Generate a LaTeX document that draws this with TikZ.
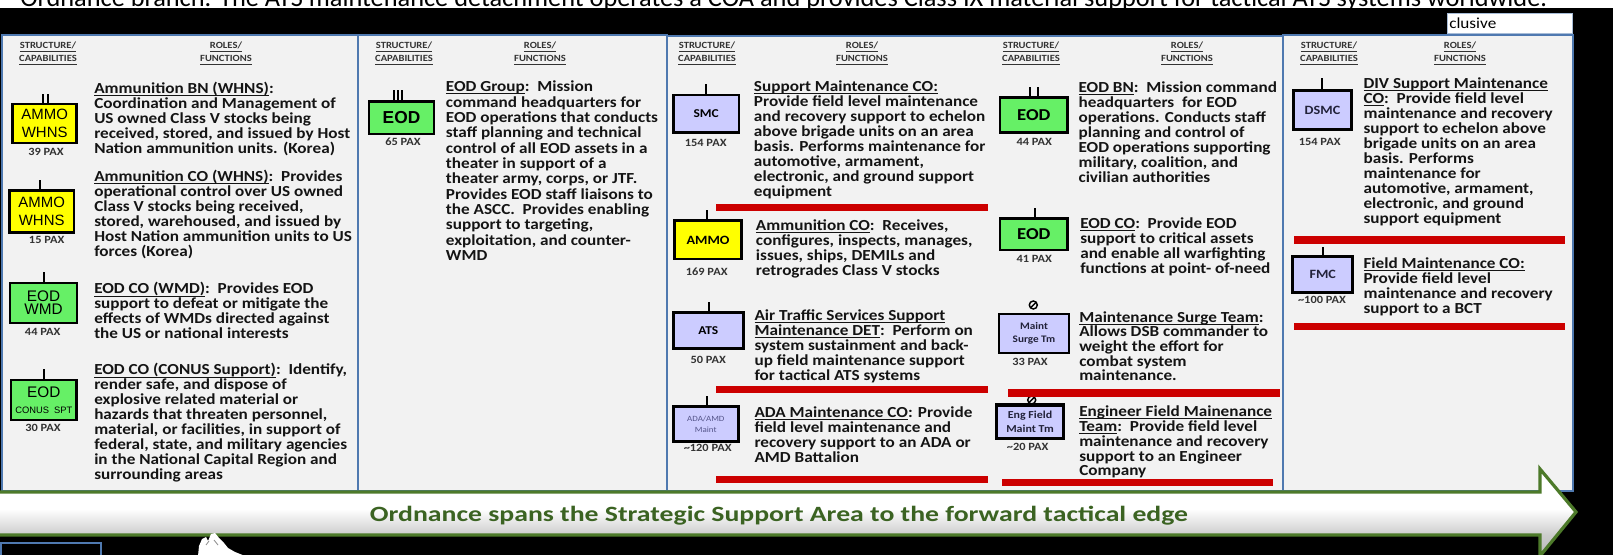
\documentclass[tikz,border=0pt]{standalone}
\usepackage{fontspec}
\usepackage{graphicx}
\newfontfamily\bodyfont{Carlito}[FakeStretch=1.12]
\newfontfamily\plainfont{Carlito}
\newfontfamily\boxfont{Liberation Sans}
\newcommand\fs[2]{\fontsize{#1}{#2}\selectfont}
% left-aligned block of lines; the baseline is that of the first line
\newcommand\txtblock[2]{\vtop{\baselineskip=#1\lineskiplimit=-\maxdimen\lineskip=0pt\halign{##\hfil\cr#2\crcr}}}
% underline at a fixed depth below the baseline
\newcommand\ulx[1]{\setbox0\hbox{#1}\rlap{\vrule height -1.3pt depth 1.85pt width \wd0}\box0}
\newcommand\ttl[1]{\ulx{#1}}

\definecolor{panelgray}{HTML}{F2F2F2}
\definecolor{panelblue}{HTML}{4F79B0}
\definecolor{ammoyellow}{HTML}{FFFF00}
\definecolor{eodgreen}{HTML}{66F066}
\definecolor{maintblue}{HTML}{CCCCFF}
\definecolor{barred}{HTML}{CC0000}
\definecolor{arrowgreen}{HTML}{4D7A2A}
\definecolor{labelgreen}{HTML}{3B6322}
\definecolor{paxgray}{HTML}{333333}
\definecolor{maintext}{HTML}{55558A}
\definecolor{darknavy}{HTML}{22223A}

\pgfdeclareverticalshading{arrowfill}{100bp}{color(0bp)=(black!28); color(25bp)=(black!28); color(37bp)=(black!20); color(52bp)=(white); color(100bp)=(white)}

\begin{document}
\begin{tikzpicture}[x=0.75pt,y=-0.75pt,
  txt/.style={inner sep=0pt, anchor=base west, font=\bodyfont\bfseries\fs{11.5}{11.25}, text=black!92},
  hdr/.style={inner sep=0pt, anchor=base, font=\bodyfont\bfseries\fs{7.1}{7.5}, text=black!80},
  unit/.style={draw=black, line width=2pt, inner sep=0pt, align=center},
  sz/.style 2 args={minimum width=#1*0.75pt, minimum height=#2*0.75pt},
  pax/.style={inner sep=0pt, font=\bodyfont\bfseries\fs{8.3}{9}, text=paxgray},
  tick/.style={draw=black, line width=1.3pt},
  bar/.style={fill=barred},
  panel/.style={fill=panelgray, draw=panelblue, line width=1.2pt},
  nosym/.style={circle, draw=black, line width=1.1pt, minimum size=6pt, inner sep=0pt,
    path picture={\draw[line width=1.1pt] (path picture bounding box.south west) -- (path picture bounding box.north east);}}
]
\path[use as bounding box] (0,0) rectangle (1613,555);
\clip (0,0) rectangle (1613,555);
\fill[black] (0,0) rectangle (1613,555);

% strip of caption text along the top edge, only its lower part showing
\fill[white] (0,0) rectangle (1613,8);
\begin{scope}
  \clip (0,0) rectangle (1613,8);
  \node[anchor=base west, inner sep=0pt] (topline) at (20,6.5)
    {\resizebox{1145pt}{!}{\plainfont Ordnance branch. The ATS maintenance detachment operates a COA and provides Class IX material support for tactical ATS systems worldwide.}};
\end{scope}

% "clusive" tab
\node[draw=panelblue!50, fill=white, sz={125.4}{20}, inner sep=0pt] (clbox) at (1510,23.3) {};
\node[anchor=base west, inner sep=0pt, font=\bodyfont\fs{11.5}{12}] (cltext) at (1449,28.5) {clusive};

% panels
\draw[panel] (2,35) rectangle (358,491);
\draw[panel] (358,35) rectangle (667,491);
\draw[panel] (667,36) rectangle (1283,491);
\draw[panel] (1283,35) rectangle (1573,491);

% column headers
\foreach \sx/\rx [count=\i] in {48/226, 404/540, 707/862, 1031/1187, 1329/1460} {
  \node[hdr] (sa\i) at (\sx,49) {\ulx{STRUCTURE/}};
  \node[hdr] (sb\i) at (\sx,62) {\ulx{CAPABILITIES}};
  \node[hdr] (ra\i) at (\rx,49) {\ulx{ROLES/}};
  \node[hdr] (rb\i) at (\rx,62) {\ulx{FUNCTIONS}};
}

% ---------- panel 1 ----------
\node[unit, sz={64}{39}, fill=ammoyellow, font=\boxfont\fs{11.2}{13.5}] (b1) at (44.7,123.5) {AMMO\\WHNS};
\draw[tick] (b1.north) ++(-1.4,0) -- ++(0,-9);
\draw[tick] (b1.north) ++(3,0) -- ++(0,-9);
\node[pax] (p1) at (46,151.7) {39 PAX};

\node[unit, sz={64.7}{41.6}, fill=ammoyellow, font=\boxfont\fs{11.2}{13.5}] (b2) at (41.7,211.5) {AMMO\\WHNS};
\draw[tick] (b2.north) ++(-1.7,0) -- ++(0,-9);
\node[pax] (p2) at (46.7,240) {15 PAX};

\node[unit, sz={67}{40}, fill=eodgreen, font=\boxfont\fs{11.5}{9.6}] (b3) at (43.5,303) {EOD\\WMD};
\draw[tick] (b3.north) ++(0.5,0) -- ++(0,-10);
\node[pax] (p3) at (42.7,331.7) {44 PAX};

\node[unit, sz={65.7}{40}, fill=eodgreen, font=\boxfont\fs{11.5}{11.6}] (b4) at (43.8,400) {EOD\\{\fs{7}{8}CONUS\ \ SPT}};
\draw[tick] (b4.north) ++(0.2,0) -- ++(0,-10);
\node[pax] (p4) at (43,428) {30 PAX};

\node[txt] (t1) at (94,93.3) {\txtblock{11.25pt}{%
\ttl{Ammunition BN (WHNS)}:\cr
Coordination and Management of\cr
US owned Class V stocks being\cr
received, stored, and issued by Host\cr
Nation ammunition units. (Korea)}};

\node[txt] (t2) at (94,181.7) {\txtblock{11.25pt}{%
\ttl{Ammunition CO (WHNS)}:\ \ Provides\cr
operational control over US owned\cr
Class V stocks being received,\cr
stored, warehoused, and issued by\cr
Host Nation ammunition units to US\cr
forces (Korea)}};

\node[txt] (t3) at (94,294) {\txtblock{11.25pt}{%
\ttl{EOD CO (WMD)}:\ \ Provides EOD\cr
support to defeat or mitigate the\cr
effects of WMDs directed against\cr
the US or national interests}};

\node[txt] (t4) at (94,375) {\txtblock{11.25pt}{%
\ttl{EOD CO (CONUS Support)}:\ \ Identify,\cr
render safe, and dispose of\cr
explosive related material or\cr
hazards that threaten personnel,\cr
material, or facilities, in support of\cr
federal, state, and military agencies\cr
in the National Capital Region and\cr
surrounding areas}};

% ---------- panel 2 ----------
\node[unit, sz={65}{32.3}, fill=eodgreen, font=\boxfont\bfseries\fs{13}{14}] (b5) at (401.5,117.9) {EOD};
\foreach \dx in {-7.5,-3.5,0.5} \draw[tick] (b5.north) ++(\dx,0) -- ++(0,-10);
\node[pax] (p5) at (403,141.7) {65 PAX};

\node[txt] (t5) at (445.7,91.7) {\txtblock{11.5pt}{%
\ttl{EOD Group}:\ \ Mission\cr
command headquarters for\cr
EOD operations that conducts\cr
staff planning and technical\cr
control of all EOD assets in a\cr
theater in support of a\cr
theater army, corps, or JTF.\cr
Provides EOD staff liaisons to\cr
the ASCC.\ \ Provides enabling\cr
support to targeting,\cr
exploitation, and counter-\cr
WMD}};

% ---------- panel 3, left column ----------
\node[unit, sz={65.7}{37.7}, fill=maintblue, font=\bodyfont\bfseries\fs{9}{10}] (b6) at (706.2,113.9) {SMC};
\draw[tick] (b6.north) ++(-0.5,0) -- ++(0,-10);
\node[pax] (p6) at (705.7,143.3) {154 PAX};
\node[txt] (t6) at (753.7,91.7) {\txtblock{11.25pt}{%
\ttl{Support Maintenance CO:}\cr
Provide field level maintenance\cr
and recovery support to echelon\cr
above brigade units on an area\cr
basis. Performs maintenance for\cr
automotive, armament,\cr
electronic, and ground support\cr
equipment}};
\fill[bar] (715.7,204) rectangle (987.7,210.7);

\node[unit, sz={67.4}{38.3}, fill=ammoyellow, font=\bodyfont\bfseries\fs{9.5}{10}] (b7) at (708,239.9) {AMMO};
\draw[tick] (b7.north) ++(-1.3,0) -- ++(0,-9);
\node[pax] (p7) at (706.7,271.7) {169 PAX};
\node[txt] (t7) at (755.7,230.7) {\txtblock{11.1pt}{%
\ttl{Ammunition CO}:\ \ Receives,\cr
configures, inspects, manages,\cr
issues, ships, DEMILs and\cr
retrogrades Class V stocks}};

\node[unit, sz={70}{35.6}, fill=maintblue, font=\bodyfont\bfseries\fs{9}{10}] (b8) at (708.3,330.5) {ATS};
\draw[tick] (b8.north) ++(0.7,0) -- ++(0,-9.5);
\node[pax] (p8) at (708.3,360) {50 PAX};
\node[txt] (t8) at (754.3,320.7) {\txtblock{11.25pt}{%
\ttl{Air Traffic Services Support}\cr
\ttl{Maintenance DET}:\ \ Perform on\cr
system sustainment and back-\cr
up field maintenance support\cr
for tactical ATS systems}};
\fill[bar] (715.7,385.7) rectangle (987.7,392.7);

\node[unit, sz={65}{35}, fill=maintblue, font=\bodyfont\fs{6}{8.25}, text=maintext] (b9) at (705.8,424.2) {ADA/AMD\\Maint};
\draw[tick] (b9.north) ++(0.9,0) -- ++(0,-9.5);
\node[pax] (p9) at (707.7,448.3) {\textasciitilde120 PAX};
\node[txt] (t9) at (754.3,417.3) {\txtblock{11.25pt}{%
\ttl{ADA Maintenance CO}: Provide\cr
field level maintenance and\cr
recovery support to an ADA or\cr
AMD Battalion}};
\fill[bar] (715.7,476) rectangle (987.7,483.3);

% ---------- panel 3, right column ----------
\node[unit, sz={67.7}{35}, fill=eodgreen, font=\bodyfont\bfseries\fs{12.5}{13}] (b10) at (1033.8,115.2) {EOD};
\draw[tick] (b10.north) ++(-3.5,0) -- ++(0,-9.5);
\draw[tick] (b10.north) ++(4,0) -- ++(0,-9.5);
\node[pax] (p10) at (1034.3,141.7) {44 PAX};
\node[txt] (t10) at (1078.3,92.3) {\txtblock{11.25pt}{%
\ttl{EOD BN}:\ \ Mission command\cr
headquarters\ \ for EOD\cr
operations. Conducts staff\cr
planning and control of\cr
EOD operations supporting\cr
military, coalition, and\cr
civilian authorities}};

\node[unit, sz={67.7}{31.7}, fill=eodgreen, font=\bodyfont\bfseries\fs{12.5}{13}] (b11) at (1033.8,234.2) {EOD};
\draw[tick] (b11.north) ++(1.2,0) -- ++(0,-9);
\node[pax] (p11) at (1034.3,259.3) {41 PAX};
\node[txt] (t11) at (1080,228.3) {\txtblock{11.25pt}{%
\ttl{EOD CO}:\ \ Provide EOD\cr
support to critical assets\cr
and enable all warfighting\cr
functions at point- of-need}};

\node[nosym] (s1) at (1033.3,305) {};
\node[unit, sz={70}{38.7}, fill=maintblue, line width=1.6pt, font=\bodyfont\bfseries\fs{7.5}{10}, text=darknavy] (b12) at (1034,333.3) {Maint\\Surge Tm};
\node[pax] (p12) at (1030,361.7) {33 PAX};
\node[txt] (t12) at (1079,322.3) {\txtblock{10.95pt}{%
\ttl{Maintenance Surge Team}:\cr
Allows DSB commander to\cr
weight the effort for\cr
combat system\cr
maintenance.}};

\node[nosym] (s2) at (1031.7,400) {};
\fill[bar] (1007.7,389) rectangle (1280,396.7);
\node[unit, sz={66.6}{33.3}, fill=maintblue, line width=2.4pt, font=\bodyfont\bfseries\fs{8}{10}, text=darknavy] (b13) at (1030,421.7) {Eng Field\\Maint Tm};
\node[pax] (p13) at (1027.7,446.7) {\textasciitilde20 PAX};
\node[txt] (t13) at (1079,416.7) {\txtblock{11.1pt}{%
\ttl{Engineer Field Mainenance}\cr
\ttl{Team}:\ \ Provide field level\cr
maintenance and recovery\cr
support to an Engineer\cr
Company}};
\fill[bar] (1002.3,479) rectangle (1273.3,486);

% ---------- panel 4 ----------
\node[unit, sz={58.4}{38.6}, fill=maintblue, font=\bodyfont\bfseries\fs{9.5}{10}, text=darknavy] (b14) at (1322.5,110) {DSMC};
\draw[tick] (b14.north) ++(-0.8,0) -- ++(0,-11);
\node[pax] (p14) at (1319.7,141.7) {154 PAX};
\node[txt] (t14) at (1363.3,88.3) {\txtblock{11.25pt}{%
\ttl{DIV Support Maintenance}\cr
\ttl{CO}:\ \ Provide field level\cr
maintenance and recovery\cr
support to echelon above\cr
brigade units on an area\cr
basis. Performs\cr
maintenance for\cr
automotive, armament,\cr
electronic, and ground\cr
support equipment}};
\fill[bar] (1294,236) rectangle (1565,244);

\node[unit, sz={60}{36}, fill=maintblue, font=\bodyfont\bfseries\fs{9.5}{10}, text=darknavy] (b15) at (1322.7,274.7) {FMC};
\draw[tick] (b15.north) -- ++(0,-8.5);
\node[pax] (p15) at (1322,300) {\textasciitilde100 PAX};
\node[txt] (t15) at (1363.3,268.3) {\txtblock{11.25pt}{%
\ttl{Field Maintenance CO:}\cr
Provide field level\cr
maintenance and recovery\cr
support to a BCT}};
\fill[bar] (1294,322.7) rectangle (1565,330);

% ---------- span arrow ----------
\path[draw=arrowgreen, line width=2.4pt, shade, shading=arrowfill]
  (-6,492) -- (1540,492) -- (1540,469) -- (1576,512) -- (1540,556) -- (1540,535) -- (-6,535) -- cycle;
\node[anchor=base, inner sep=0pt, text=labelgreen, font=\bodyfont\bfseries] (spanlabel) at (779,521)
  {\resizebox{613.5pt}{11.5pt}{Ordnance spans the Strategic Support Area to the forward tactical edge}};

% ---------- bottom edge ----------
\draw[panelblue, line width=2pt, fill=black] (1,543) rectangle (101,562);
\fill[white] (198,556) -- (199,546) -- (202,539) -- (206,537) -- (208,541) -- (211,534) -- (215,533)
  -- (219,538) -- (224,543) -- (228,548) -- (235,552) -- (245,556) -- cycle;
\draw[black!45, line width=0.6pt] (206,545) -- (209,541) (214,540) -- (218,545);
\end{tikzpicture}
\end{document}
